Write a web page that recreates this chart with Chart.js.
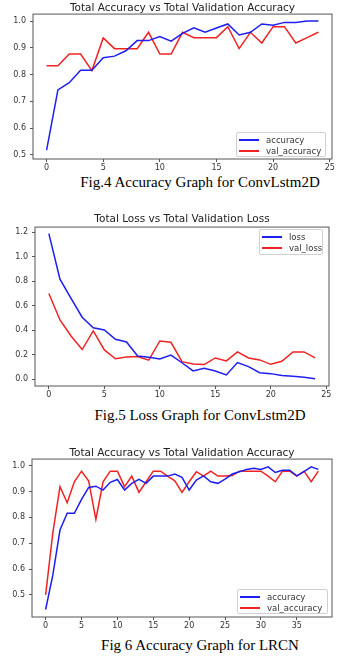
<!DOCTYPE html>
<html><head><meta charset="utf-8">
<script src="https://cdn.jsdelivr.net/npm/chart.js@4.4.1/dist/chart.umd.min.js"></script>
<style>
html,body{margin:0;padding:0;background:#fff;width:364px;height:660px;overflow:hidden;position:relative;}
.box{position:absolute;left:0;width:364px;}
.cap{position:absolute;left:36px;width:328px;text-align:center;font-family:"Liberation Serif","Times New Roman",serif;font-size:15px;color:#000;line-height:18px;white-space:nowrap;}
.lg{position:absolute;border:1px solid #d0d0d0;border-radius:2px;background:rgba(255,255,255,0.85);font-family:"DejaVu Sans",sans-serif;font-size:8.5px;color:#333;padding:1px 4px 1px 2px;box-sizing:border-box;}
.lg .row{display:flex;align-items:center;height:11px;white-space:nowrap;}
.lg .ln{width:20px;height:2px;margin-right:7px;flex:none;}
</style></head><body>
<div class="box" style="top:2px;height:171px"><canvas id="c1"></canvas></div>
<div class="cap" style="top:173px">Fig.4 Accuracy Graph for ConvLstm2D</div>
<div class="box" style="top:213px;height:187px"><canvas id="c2"></canvas></div>
<div class="cap" style="top:406px">Fig.5 Loss Graph for ConvLstm2D</div>
<div class="box" style="top:447px;height:184px"><canvas id="c3"></canvas></div>
<div class="cap" style="top:636px">Fig 6 Accuracy Graph for LRCN</div>
<div class="lg" id="lg1" style="left:236px;top:132px;width:90px;height:25px"></div>
<div class="lg" id="lg2" style="left:259px;top:229px;width:64px;height:26px"></div>
<div class="lg" id="lg3" style="left:237px;top:589px;width:91px;height:25px"></div>
<script>
// ---------- data ----------
const epochs25 = [0,1,2,3,4,5,6,7,8,9,10,11,12,13,14,15,16,17,18,19,20,21,22,23,24];
const epochs39 = [0,1,2,3,4,5,6,7,8,9,10,11,12,13,14,15,16,17,18,19,20,21,22,23,24,25,26,27,28,29,30,31,32,33,34,35,36,37,38];

const conv_accuracy = [0.518,0.743,0.770,0.816,0.816,0.863,0.869,0.889,0.927,0.927,0.942,0.925,0.954,0.975,0.958,0.974,0.989,0.948,0.958,0.989,0.984,0.995,0.995,1.0,1.0];
const conv_val_accuracy = [0.833,0.833,0.877,0.877,0.815,0.937,0.897,0.897,0.897,0.958,0.877,0.877,0.958,0.938,0.938,0.938,0.979,0.897,0.958,0.918,0.979,0.979,0.918,0.938,0.958];

const conv_loss = [1.19,0.817,0.661,0.507,0.420,0.402,0.326,0.305,0.190,0.180,0.166,0.197,0.135,0.068,0.090,0.068,0.035,0.136,0.103,0.054,0.046,0.030,0.025,0.016,0.005];
const conv_val_loss = [0.700,0.484,0.353,0.243,0.395,0.240,0.167,0.181,0.186,0.156,0.313,0.302,0.144,0.125,0.120,0.174,0.150,0.223,0.174,0.158,0.122,0.147,0.223,0.223,0.174];

const lrcn_accuracy = [0.443,0.576,0.751,0.816,0.816,0.870,0.916,0.921,0.906,0.936,0.947,0.906,0.932,0.947,0.932,0.960,0.960,0.960,0.968,0.955,0.906,0.945,0.961,0.938,0.932,0.948,0.968,0.977,0.986,0.990,0.986,0.996,0.974,0.983,0.983,0.961,0.977,0.996,0.986];
const lrcn_val_accuracy = [0.500,0.740,0.919,0.857,0.938,0.979,0.941,0.792,0.938,0.979,0.979,0.919,0.960,0.897,0.938,0.979,0.979,0.960,0.942,0.897,0.938,0.977,0.960,0.979,0.960,0.960,0.962,0.979,0.979,0.979,0.979,0.960,0.938,0.979,0.979,0.960,0.979,0.938,0.979];

const xTicks25 = [0,5,10,15,20,25];
const xTicks39 = [0,5,10,15,20,25,30,35];
const yTicksAcc1 = [0.5,0.6,0.7,0.8,0.9,1.0];
const yTicksLoss = [0.0,0.2,0.4,0.6,0.8,1.0,1.2];
const yTicksAcc3 = [0.5,0.6,0.7,0.8,0.9,1.0];

const titles = ['Total Accuracy vs Total Validation Accuracy','Total Loss vs Total Validation Loss','Total Accuracy vs Total Validation Accuracy'];
const BLUE = 'rgb(30,30,240)';
const RED = 'rgb(240,35,35)';

// ---------- helpers ----------
const framePlugin = {
  id:'frame',
  afterDraw(chart){
    const {ctx, chartArea:a} = chart;
    ctx.save();
    ctx.strokeStyle = '#555';
    ctx.lineWidth = 1;
    ctx.strokeRect(a.left, a.top, a.right - a.left, a.bottom - a.top);
    ctx.restore();
  }
};

function pts(xs, ys){ return ys.map((v,i)=>({x:xs[i], y:v})); }

function makeChart(id, cfg){
  const tickFont = {family:'DejaVu Sans', size:8};
  return new Chart(document.getElementById(id), {
    type:'line',
    data:{datasets: cfg.series.map(s=>({
      label:s.label, data:pts(cfg.xs, s.values), borderColor:s.color, backgroundColor:s.color,
      borderWidth:1.5, pointRadius:0, tension:0, fill:false
    }))},
    options:{
      responsive:true, maintainAspectRatio:false, animation:false, devicePixelRatio:1,
      events:[],
      layout:{padding:{left:0,right:cfg.padRight,top:0,bottom:0}},
      plugins:{
        legend:{display:false}, tooltip:{enabled:false},
        title:{display:true, fullSize:false, text:cfg.title, color:'#222',
          font:{family:'DejaVu Sans', size:10.5, weight:'normal', lineHeight:1.15},
          padding:{top:0,bottom:cfg.titleGap}}
      },
      scales:{
        x:{type:'linear', min:cfg.xMin, max:cfg.xMax,
          afterBuildTicks:ax=>{ax.ticks = cfg.xTicks.map(v=>({value:v}));},
          afterFit:ax=>{ax.height = 14;},
          grid:{drawOnChartArea:false, drawTicks:true, tickLength:3, color:'#555'},
          border:{display:false},
          ticks:{font:tickFont, color:'#333', padding:1, maxRotation:0, autoSkip:false, callback:v=>String(v)}},
        y:{type:'linear', min:cfg.yMin, max:cfg.yMax,
          afterBuildTicks:ax=>{ax.ticks = cfg.yTicks.map(v=>({value:v}));},
          afterFit:ax=>{ax.width = cfg.yWidth;},
          grid:{drawOnChartArea:false, drawTicks:true, tickLength:3, color:'#555'},
          border:{display:false},
          ticks:{font:tickFont, color:'#333', padding:4, autoSkip:false, callback:v=>Number(v).toFixed(1)}}
      }
    },
    plugins:[framePlugin]
  });
}

function makeLegend(id, chart){
  const el = document.getElementById(id);
  chart.data.datasets.forEach(ds=>{
    const row = document.createElement('div'); row.className='row';
    const ln = document.createElement('span'); ln.className='ln'; ln.style.background = ds.borderColor;
    const tx = document.createElement('span'); tx.textContent = ds.label;
    row.appendChild(ln); row.appendChild(tx); el.appendChild(row);
  });
}

const ch1 = makeChart('c1', {
  title:titles[0], xs:epochs25, xMin:-1.2, xMax:25.2, yMin:0.485, yMax:1.026,
  xTicks:xTicks25, yTicks:yTicksAcc1, yWidth:33, padRight:32, titleGap:0,
  series:[{label:'accuracy', values:conv_accuracy, color:BLUE},{label:'val_accuracy', values:conv_val_accuracy, color:RED}]
});
const ch2 = makeChart('c2', {
  title:titles[1], xs:epochs25, xMin:-1.25, xMax:25.25, yMin:-0.055, yMax:1.243,
  xTicks:xTicks25, yTicks:yTicksLoss, yWidth:35, padRight:35, titleGap:2,
  series:[{label:'loss', values:conv_loss, color:BLUE},{label:'val_loss', values:conv_val_loss, color:RED}]
});
const ch3 = makeChart('c3', {
  title:titles[2], xs:epochs39, xMin:-1.9, xMax:39.9, yMin:0.414, yMax:1.026,
  xTicks:xTicks39, yTicks:yTicksAcc3, yWidth:32, padRight:32, titleGap:0,
  series:[{label:'accuracy', values:lrcn_accuracy, color:BLUE},{label:'val_accuracy', values:lrcn_val_accuracy, color:RED}]
});
makeLegend('lg1', ch1);
makeLegend('lg2', ch2);
makeLegend('lg3', ch3);
</script>
</body></html>
